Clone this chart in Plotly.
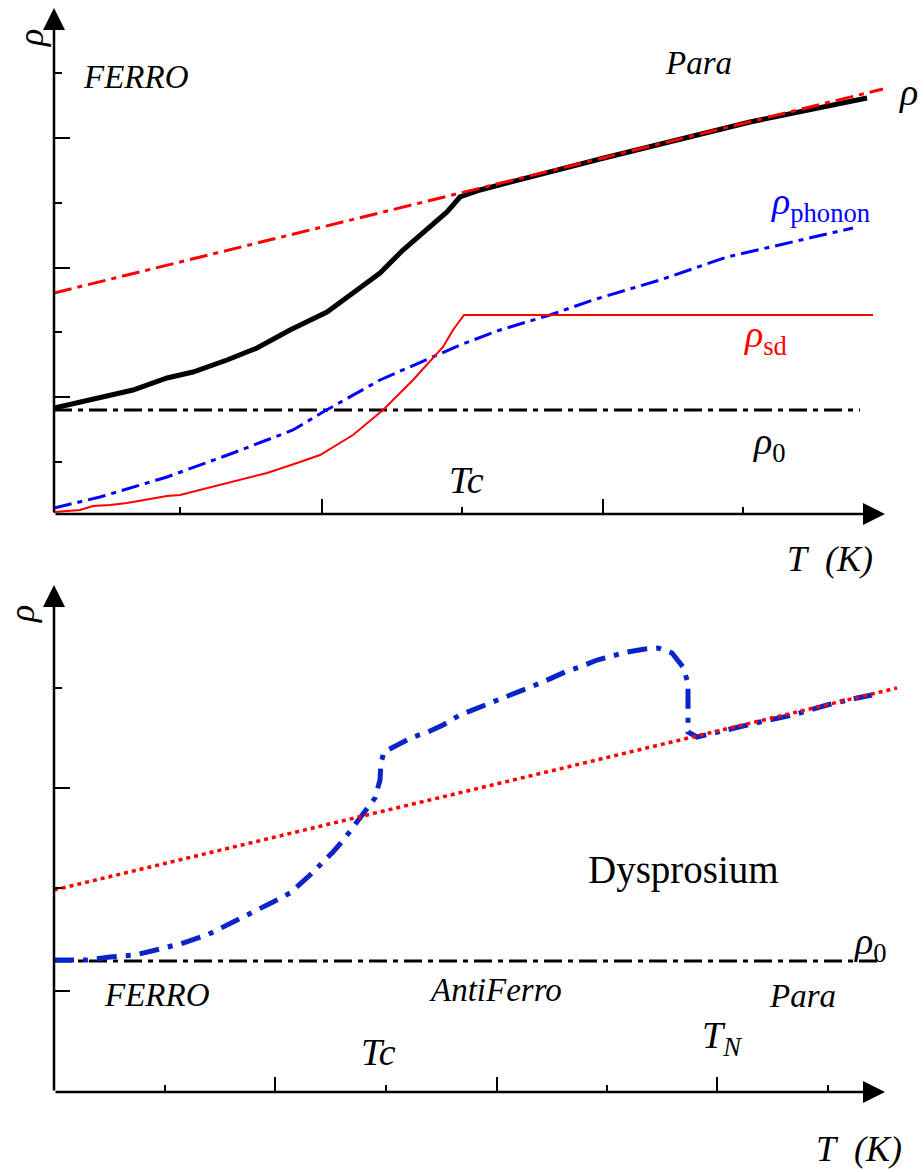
import plotly.graph_objects as go

# ---------------- data (arbitrary units: T and rho) ----------------
# Top panel (ferromagnet)
fit_T = [0, 82.9]
fit_rho = [22.1, 42.5]

total_T = [0, 7.9, 11.3, 13.9, 17.3, 20.3, 23.6, 27.3, 30.3, 32.6, 34.9, 36.9, 39.3, 40.6, 42.6, 54.6, 69.6, 81.3]
total_rho = [10.6, 12.4, 13.6, 14.2, 15.4, 16.6, 18.4, 20.2, 22.4, 24.1, 26.4, 28.1, 30.2, 31.7, 32.4, 35.5, 39.2, 41.6]

sd_T = [0, 2.6, 3.9, 5.6, 7.3, 11.3, 12.6, 17.9, 21.3, 24.6, 26.6, 29.9, 32.9, 35.9, 38.9, 39.9, 40.8, 41.0, 81.9]
sd_rho = [0.2, 0.4, 0.8, 0.9, 1.1, 1.8, 1.9, 3.2, 4.1, 5.2, 5.9, 7.9, 10.4, 13.4, 16.7, 18.4, 19.6, 19.9, 19.9]

ph_T = [0, 4.6, 11.3, 17.9, 23.9, 26.9, 32.6, 37.9, 40.6, 44.6, 49.6, 53.9, 60.6, 67.3, 79.9]
ph_rho = [0.6, 1.7, 3.7, 6.1, 8.4, 10.2, 13.4, 15.7, 16.9, 18.4, 19.9, 21.4, 23.4, 25.7, 28.6]

rho0_T = [0, 80.6]
rho0_rho = [10.4, 10.4]

top_x_major = [26.8, 54.9]
top_x_minor = [12.6, 40.8, 68.9]
top_y_major = [11.7, 24.6, 37.6]
top_y_minor = [5.2, 18.2, 31.1, 44.1]

# Bottom panel (Dysprosium)
fit2_T = [0, 84.3]
fit2_rho = [20.2, 40.4]

dy_T = [0, 3.3, 5.6, 8.1, 10.6, 12.9, 15.3, 17.6, 19.3, 21.9, 23.6, 25.6, 27.9, 29.1, 30.6, 32.1,
        32.6, 32.7, 33.0, 34.3, 35.9, 37.4, 38.9, 40.6, 41.9, 43.9, 46.6, 48.9, 51.1, 52.6, 54.3,
        55.6, 57.3, 59.1, 60.4, 61.8, 62.9, 63.4, 63.4, 63.4, 63.4, 64.3, 65.9, 67.3, 70.6, 73.9,
        77.3, 80.3, 81.8]
dy_rho = [13.2, 13.2, 13.5, 13.7, 14.3, 14.9, 15.7, 16.9, 17.7, 19.0, 19.9, 21.7, 24.0, 25.4, 27.5, 29.4,
          31.2, 32.9, 34.0, 34.7, 35.5, 36.0, 36.7, 37.7, 38.2, 39.0, 40.0, 41.0, 42.0, 42.5, 43.2,
          43.6, 44.0, 44.3, 44.4, 43.9, 42.5, 40.9, 39.2, 37.4, 36.0, 35.5, 35.9, 36.2, 37.0, 37.7,
          38.7, 39.4, 39.7]

rho02_T = [0, 82.8]
rho02_rho = [13.1, 13.1]

bot_x_major = [22.1, 44.3, 66.3]
bot_x_minor = [11.1, 33.2, 55.3, 77.4]
bot_y_major = [10.1, 30.4]
bot_y_minor = [20.4, 40.4]

X_TIP = 83.1
Y_TIP_TOP = 50.6
Y_TIP_BOT = 50.7

# ---------------- figure ----------------
FONT = "Liberation Serif"
DASHDOT = "18px,6px,5px,6px"
fig = go.Figure()

def line(x, y, color, width, dash="solid", xa="x", ya="y"):
    fig.add_trace(go.Scatter(x=x, y=y, mode="lines", xaxis=xa, yaxis=ya,
                             line=dict(color=color, width=width, dash=dash),
                             cliponaxis=False, showlegend=False, hoverinfo="skip"))

# top panel
line(rho0_T, rho0_rho, "black", 3, DASHDOT)
line(ph_T, ph_rho, "#0000ff", 3, DASHDOT)
line(sd_T, sd_rho, "#ff0000", 2)
line(total_T, total_rho, "black", 5)
line(fit_T, fit_rho, "#ff0000", 3, DASHDOT)

# bottom panel
line(rho02_T, rho02_rho, "black", 3, DASHDOT, "x2", "y2")
line(dy_T, dy_rho, "#0a24c8", 5, "20px,9px,5px,9px", "x2", "y2")
line(fit2_T, fit2_rho, "#ff0000", 3.5, "4px,4px", "x2", "y2")

def xaxis_cfg(major, minor, domain_anchor):
    return dict(domain=[54 / 924, 1.0], range=[0, 87.0], anchor=domain_anchor,
                showgrid=False, zeroline=False, showline=False, showticklabels=False,
                ticks="inside", tickmode="array", tickvals=major, ticklen=15,
                tickwidth=2, tickcolor="black",
                minor=dict(ticks="inside", tickmode="array", tickvals=minor, ticklen=7,
                           tickwidth=2, tickcolor="black", showgrid=False))

def yaxis_cfg(major, minor, domain, rng, xanchor):
    return dict(domain=domain, range=rng, anchor=xanchor,
                showgrid=False, zeroline=False, showline=False, showticklabels=False,
                ticks="inside", tickmode="array", tickvals=major, ticklen=16,
                tickwidth=2, tickcolor="black",
                minor=dict(ticks="inside", tickmode="array", tickvals=minor, ticklen=8,
                           tickwidth=2, tickcolor="black", showgrid=False))

fig.update_layout(
    width=924, height=1172, margin=dict(l=0, r=0, t=0, b=0),
    paper_bgcolor="white", plot_bgcolor="rgba(0,0,0,0)",
    xaxis=xaxis_cfg(top_x_major, top_x_minor, "y"),
    yaxis=yaxis_cfg(top_y_major, top_y_minor, [(1172 - 514) / 1172, 1.0], [0, 51.4], "x"),
    xaxis2=xaxis_cfg(bot_x_major, bot_x_minor, "y2"),
    yaxis2=yaxis_cfg(bot_y_major, bot_y_minor, [(1172 - 1092) / 1172, (1172 - 580) / 1172], [0, 51.2], "x2"),
)

ann = []

def axis_arrow(xa, ya, x, y):
    ann.append(dict(xref=xa, yref=ya, axref=xa, ayref=ya, x=x, y=y, ax=0, ay=0, text="",
                    showarrow=True, arrowhead=2, arrowsize=1.76, arrowwidth=2.5,
                    arrowcolor="black"))

axis_arrow("x", "y", X_TIP, 0)
axis_arrow("x", "y", 0, Y_TIP_TOP)
axis_arrow("x2", "y2", X_TIP, 0)
axis_arrow("x2", "y2", 0, Y_TIP_BOT)

def label(text, x, y, size, xa="x", ya="y", color="black", angle=0, xanchor="center"):
    ann.append(dict(xref=xa, yref=ya, x=x, y=y, text=text, showarrow=False,
                    xanchor=xanchor, yanchor="middle", textangle=angle,
                    font=dict(family=FONT, size=size, color=color)))

# top labels (out-of-range ones placed in paper coordinates)
label("<i>ρ</i>", 31 / 924, 1 - 38 / 1172, 36, "paper", "paper", angle=-90)
label("<i>FERRO</i>", 8.2, 43.7, 33)
label("<i>Para</i>", 64.4, 45.1, 33)
label("<i>ρ</i>", 85.4, 42.2, 38)
label("<i>ρ</i><sub>phonon</sub>", 76.6, 31.0, 38, color="#0000ff")
label("<i>ρ</i><sub>sd</sub>", 71.1, 17.7, 38, color="#ff0000")
label("<i>ρ</i><sub>0</sub>", 71.5, 7.0, 38)
label("<i>Tc</i>", 41.2, 3.4, 38)
label("<i>T&nbsp;&nbsp;(K)</i>", 830 / 924, 1 - 559 / 1172, 36, "paper", "paper")

# bottom labels
label("<i>ρ</i>", 22 / 924, 1 - 614 / 1172, 36, "paper", "paper", angle=-90)
label("Dysprosium", 62.9, 22.2, 39, "x2", "y2")
label("<i>ρ</i><sub>0</sub>", 81.6, 14.8, 38, "x2", "y2")
label("<i>FERRO</i>", 10.3, 9.7, 33, "x2", "y2")
label("<i>AntiFerro</i>", 44.1, 10.2, 33, "x2", "y2")
label("<i>Para</i>", 74.8, 9.6, 33, "x2", "y2")
label("<i>Tc</i>", 32.4, 4.0, 38, "x2", "y2")
label("<i>T</i><sub><i>N</i></sub>", 66.8, 5.4, 38, "x2", "y2")
label("<i>T&nbsp;&nbsp;(K)</i>", 859 / 924, 1 - 1149 / 1172, 36, "paper", "paper")

fig.update_layout(annotations=ann)
fig.write_html("out.html")
